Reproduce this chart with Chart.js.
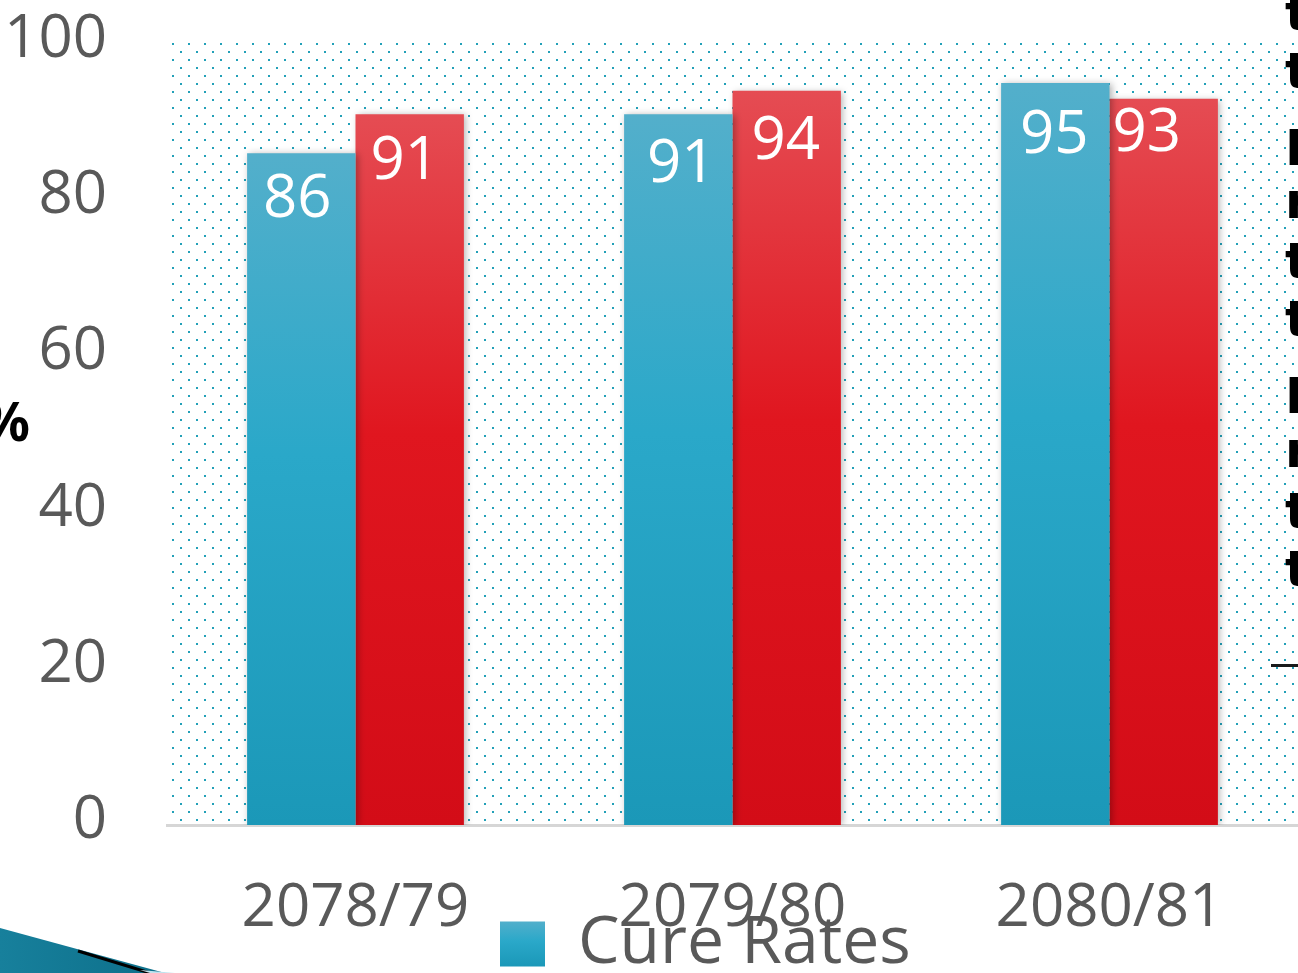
<!DOCTYPE html>
<html><head><meta charset="utf-8">
<script src="https://cdn.jsdelivr.net/npm/chart.js@4.4.1/dist/chart.umd.min.js"></script>
<style>
html,body{margin:0;padding:0;background:#fff;overflow:hidden;width:1298px;height:973px;}
#wrap{position:relative;width:1298px;height:973px;overflow:hidden;background:#fff;}
#c{position:absolute;left:0;top:0;}
.pct{position:absolute;left:-100px;width:130px;top:390px;text-align:right;font:bold 54px "Noto Sans";color:#000;line-height:60px;}
.side{position:absolute;left:1285px;font:bold 50px "DejaVu Sans";color:#000;line-height:50px;white-space:nowrap;}
.dash{position:absolute;left:1271px;top:664px;width:30px;height:3px;background:#1a1a1a;}
.sw{position:absolute;left:0;top:920px;}
</style></head><body>
<div id="wrap">
<canvas id="c" width="1298" height="973"></canvas>
<div class="pct">%</div>
<div class="side" style="top:-12px">t</div>
<div class="side" style="top:46px">t</div>
<div class="side" style="top:123px">N</div>
<div class="side" style="top:176px">r</div>
<div class="side" style="top:236px">t</div>
<div class="side" style="top:294px">t</div>
<div class="side" style="top:371px">N</div>
<div class="side" style="top:425px">r</div>
<div class="side" style="top:486px">t</div>
<div class="side" style="top:544px">t</div>
<div class="dash"></div>
<svg class="sw" width="200" height="53" viewBox="0 0 200 53">
<defs><linearGradient id="sg" x1="0" y1="0" x2="1" y2="0"><stop offset="0" stop-color="#17809c"/><stop offset="1" stop-color="#0d6f8a"/></linearGradient></defs>
<polygon points="0,8 165,53 0,53" fill="url(#sg)"/>
<polyline points="78,31 150,53" stroke="#000" stroke-width="3" fill="none"/>
<polygon points="140,50 175,53 150,53" fill="#bfe3ee"/>
</svg>
</div>
<script>
const categories = ['2078/79', '2079/80', '2080/81'];
const cureRates = [86, 91, 95];
const successRates = [91, 94, 93];
const seriesNames = ['Cure Rates', 'Success Rates'];
const yTicks = [0, 20, 40, 60, 80, 100];

const blueStops = [[0, '#53afcb'], [0.45, '#2aa8c9'], [1, '#1b98b8']];
const redStops = [[0, '#e54c53'], [0.45, '#e0161f'], [1, '#d30c17']];

function barGrad(stops, fallback) {
  return (ctx) => {
    const chart = ctx.chart;
    if (!chart.chartArea || ctx.type !== 'data' || ctx.parsed == null) return fallback;
    const ys = chart.scales.y;
    const top = ys.getPixelForValue(ctx.parsed.y), bot = ys.getPixelForValue(0);
    const g = chart.ctx.createLinearGradient(0, top, 0, bot);
    stops.forEach(s => g.addColorStop(s[0], s[1]));
    return g;
  };
}

const dotsPlugin = {
  id: 'dots',
  beforeDraw(chart) {
    const {ctx, chartArea} = chart;
    const tile = document.createElement('canvas');
    tile.width = 16; tile.height = 16;
    const t = tile.getContext('2d');
    t.fillStyle = '#22a0b8';
    t.fillRect(0, 0, 2, 2);
    t.fillRect(8, 8, 2, 2);
    const pat = ctx.createPattern(tile, 'repeat');
    pat.setTransform(new DOMMatrix().translate(172, 43));
    ctx.save();
    ctx.fillStyle = pat;
    ctx.fillRect(chartArea.left + 3, chartArea.top - 2, chartArea.right - chartArea.left, chartArea.bottom - chartArea.top - 1);
    ctx.restore();
  }
};

// hand-placed value labels in the original: small per-label nudges (dx, dy from bar top)
const labelNudge = {
  dx: [[-4, 3, -1], [-5, -1, -17]],
  dy: [[41, 45, 47], [42, 45, 29]]
};

const shadowLabels = {
  id: 'shadowLabels',
  beforeDatasetsDraw(chart) {
    const ctx = chart.ctx;
    ctx.save();
    ctx.shadowColor = 'rgba(0,0,0,0.30)';
    ctx.shadowBlur = 7;
    ctx.shadowOffsetX = 2;
    ctx.shadowOffsetY = 1;
  },
  afterDatasetsDraw(chart) {
    const ctx = chart.ctx;
    ctx.restore();
    ctx.save();
    ctx.fillStyle = '#ffffff';
    ctx.font = '500 60px "Open Sans"';
    ctx.textAlign = 'center';
    ctx.textBaseline = 'middle';
    chart.data.datasets.forEach((ds, di) => {
      const meta = chart.getDatasetMeta(di);
      meta.data.forEach((bar, i) => {
        ctx.fillText(String(ds.data[i]), bar.x + labelNudge.dx[di][i], bar.y + labelNudge.dy[di][i] + 6);
      });
    });
    ctx.restore();
  }
};

const legendPos = {
  id: 'legendPos',
  afterLayout(chart) {
    const lg = chart.legend;
    if (!lg) return;
    lg.left = 500; lg.top = 911; lg.right = 1298; lg.bottom = 973;
  }
};

new Chart(document.getElementById('c'), {
  type: 'bar',
  data: {
    labels: categories,
    datasets: [
      { label: seriesNames[0], data: cureRates, backgroundColor: barGrad(blueStops, '#2aa8c9'), borderWidth: 0 },
      { label: seriesNames[1], data: successRates, backgroundColor: barGrad(redStops, '#e0161f'), borderWidth: 0 }
    ]
  },
  options: {
    responsive: false,
    animation: false,
    devicePixelRatio: 1,
    layout: { padding: { top: 44, left: 0, right: 0, bottom: 0 } },
    datasets: { bar: { categoryPercentage: 0.575, barPercentage: 1.0 } },
    scales: {
      x: {
        grid: { display: false, drawTicks: false },
        border: { display: true, color: '#d6d6d6', width: 3 },
        ticks: { font: { family: 'Open Sans', size: 60, weight: '500' }, color: '#595959', padding: 48, maxRotation: 0 },
        afterFit: s => { s.height = 148; s.paddingLeft = 0; s.paddingRight = 0; }
      },
      y: {
        min: 0, max: 100,
        grid: { display: false, drawTicks: false },
        border: { display: false },
        afterBuildTicks: s => { s.ticks = yTicks.map(v => ({ value: v })); },
        ticks: { font: { family: 'Open Sans', size: 60, weight: '500' }, color: '#595959', padding: 60, labelOffset: -4 },
        afterFit: s => { s.width = 167; s.paddingTop = 0; s.paddingBottom = 0; }
      }
    },
    plugins: {
      tooltip: { enabled: false },
      legend: {
        position: 'chartArea',
        align: 'start',
        labels: {
          padding: 0,
          boxWidth: 45,
          boxHeight: 45,
          color: '#595959',
          font: { family: 'Open Sans', size: 66, weight: '500' },
          generateLabels(chart) {
            const items = Chart.defaults.plugins.legend.labels.generateLabels(chart);
            return items.filter(it => it.datasetIndex === 0).map(it => {
              const g = chart.ctx.createLinearGradient(0, 921, 0, 966);
              blueStops.forEach(s => g.addColorStop(s[0], s[1]));
              it.fillStyle = g;
              it.strokeStyle = 'rgba(0,0,0,0)';
              it.lineWidth = 0;
              return it;
            });
          }
        }
      }
    }
  },
  plugins: [dotsPlugin, shadowLabels, legendPos]
});
</script>
</body></html>
